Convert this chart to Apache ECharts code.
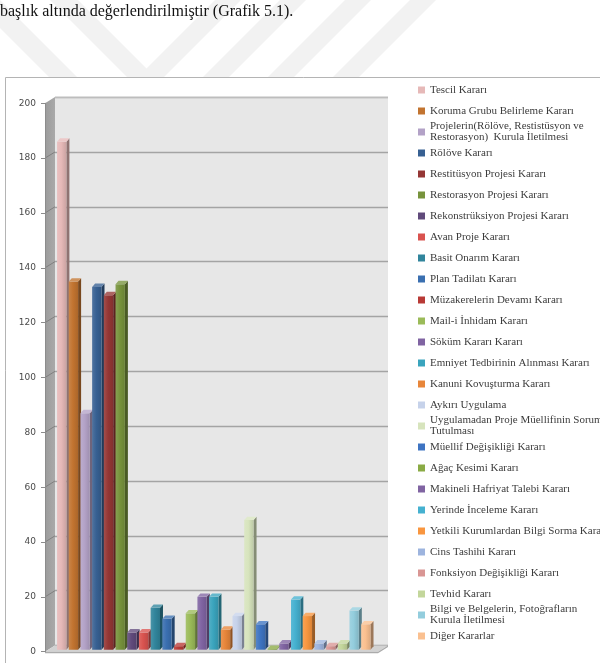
<!DOCTYPE html>
<html><head><meta charset="utf-8">
<script src="https://cdn.jsdelivr.net/npm/echarts@6/dist/echarts.min.js"></script>
<style>html,body{margin:0;padding:0;background:#fff}#c{width:600px;height:663px}</style>
</head><body><div id="c"></div>
<script>
// ---------- data ----------
const categories = [
  'Tescil Kararı',
  'Koruma Grubu Belirleme Kararı',
  'Projelerin(Rölöve, Restistüsyon ve\nRestorasyon)  Kurula İletilmesi',
  'Rölöve Kararı',
  'Restitüsyon Projesi Kararı',
  'Restorasyon Projesi Kararı',
  'Rekonstrüksiyon Projesi Kararı',
  'Avan Proje Kararı',
  'Basit Onarım Kararı',
  'Plan Tadilatı Kararı',
  'Müzakerelerin Devamı Kararı',
  'Mail-i İnhidam Kararı',
  'Söküm Kararı Kararı',
  'Emniyet Tedbirinin Alınması Kararı',
  'Kanuni Kovuşturma Kararı',
  'Aykırı Uygulama',
  'Uygulamadan Proje Müellifinin Sorum\nTutulması',
  'Müellif Değişikliği Kararı',
  'Ağaç Kesimi Kararı',
  'Makineli Hafriyat Talebi Kararı',
  'Yerinde İnceleme Kararı',
  'Yetkili Kurumlardan Bilgi Sorma Kararı',
  'Cins Tashihi Kararı',
  'Fonksiyon Değişikliği Kararı',
  'Tevhid Kararı',
  'Bilgi ve Belgelerin, Fotoğrafların\nKurula İletilmesi',
  'Diğer Kararlar'
];
const values = [186, 135, 87, 133, 130, 134, 7, 7, 16, 12, 2, 14, 20, 20, 8, 13, 48, 10, 1, 3, 19, 13, 3, 2, 3, 15, 10];
const colors = [
  '#e6b9b8', '#c27430', '#b3a2c7', '#376092', '#953735', '#77933c', '#604a7b', '#d9534f',
  '#31859c', '#3a6fb0', '#b83a36', '#9bbb59', '#8064a2', '#3aa4bd', '#e8863a', '#c6d2ea',
  '#d7e4bd', '#3e74c2', '#8aab45', '#8064a2', '#45b1d0', '#f9963f', '#9db4de', '#d99694',
  '#c3d69b', '#93cddd', '#fac090'
];
const yMin = 0, yMax = 200, yInterval = 20;
const titleText = 'başlık altında değerlendirilmiştir (Grafik 5.1).';

// ---------- layout ----------
const FRONT = { left: 45, top: 103.3, width: 333, height: 548.4 };
const DEPTH = { dx: 10, dy: 6.2 };
const BAR = { frac: 0.8, dx: 3, dy: 3.4, lift: 2 };
const X_OFFSET = 1.03;            // empty space before the first bar (in bar slots)
const X_RANGE = { min: 0, max: 28.47 };
const LEGEND = { left: 418, firstCenter: 90, step: 21 };

function mix(hex, t) { // t>0 lighten, t<0 darken
  const n = parseInt(hex.slice(1), 16);
  let r = n >> 16, g = (n >> 8) & 255, b = n & 255;
  const tgt = t > 0 ? 255 : 0, k = Math.abs(t);
  r = Math.round(r + (tgt - r) * k); g = Math.round(g + (tgt - g) * k); b = Math.round(b + (tgt - b) * k);
  return 'rgb(' + r + ',' + g + ',' + b + ')';
}

function renderBar(params, api) {
  const i = api.value(0) + X_OFFSET, v = api.value(1);
  const a = api.coord([i, v]);
  const b = api.coord([i + 1, 0]);
  const w = (b[0] - a[0]) * BAR.frac;
  const x0 = a[0], x1 = a[0] + w, yt = a[1], yb = b[1] - BAR.lift;
  const col = colors[params.seriesIndex];
  const dx = BAR.dx, dy = BAR.dy;
  return {
    type: 'group',
    children: [
      { type: 'polygon', shape: { points: [[x1, yt], [x1 + dx, yt - dy], [x1 + dx, yb - dy], [x1, yb]] },
        style: { fill: mix(col, -0.38) } },
      { type: 'rect', shape: { x: x0, y: yt, width: w, height: Math.max(0, yb - yt) },
        style: { fill: new echarts.graphic.LinearGradient(0, 0, 1, 0, [
          { offset: 0, color: mix(col, 0.12) }, { offset: 0.45, color: col }, { offset: 1, color: mix(col, -0.12) }]) } },
      { type: 'polygon', shape: { points: [[x0, yt], [x1, yt], [x1 + dx, yt - dy], [x0 + dx, yt - dy]] },
        style: { fill: mix(col, 0.22) } }
    ]
  };
}

const series = categories.map((name, i) => ({
  type: 'custom',
  name: name,
  xAxisIndex: 0, yAxisIndex: 0,
  itemStyle: { color: colors[i] },
  clip: false,
  renderItem: renderBar,
  data: [[i, values[i]]],
  z: 3
}));

const legends = categories.map((name, i) => {
  const multi = name.indexOf('\n') >= 0;
  const c = LEGEND.firstCenter + LEGEND.step * i;
  return {
    left: LEGEND.left,
    top: multi ? c - 16.5 : c - 5.5,
    padding: 0,
    data: [name],
    icon: 'rect',
    itemWidth: 7, itemHeight: 7,
    textStyle: {
      fontFamily: 'Liberation Serif', fontSize: 11, color: '#3c3c3c', lineHeight: 11,
      padding: multi ? [11, 0, 0, 0] : 0
    }
  };
});

// decorations (walls, floor, frame, watermark)
const yPix = v => FRONT.top + FRONT.height * (1 - (v - yMin) / (yMax - yMin));
const graphics = [];
graphics.push({ type: 'rect', z: -10, shape: { x: 5.5, y: 77.5, width: 640, height: 640 },
  style: { fill: '#fff', stroke: '#b4b4b4', lineWidth: 1 } });
const bs = [-28, 50], fs = [215, 280, 345, 410];
bs.forEach(a => graphics.push({ type: 'polygon', z: -11,
  shape: { points: [[a, 0], [a + 28, 0], [a + 105, 77], [a + 77, 77]] }, style: { fill: '#f2f2f2' } }));
fs.forEach(b => graphics.push({ type: 'polygon', z: -11,
  shape: { points: [[b, 0], [b + 26, 0], [b - 51, 77], [b - 77, 77]] }, style: { fill: '#f2f2f2' } }));
const fL = FRONT.left, fR = FRONT.left + FRONT.width, fT = FRONT.top, fB = FRONT.top + FRONT.height;
graphics.push({ type: 'polygon', z: 1,
  shape: { points: [[fL, fT], [fL + DEPTH.dx, fT - DEPTH.dy], [fL + DEPTH.dx, fB - DEPTH.dy], [fL, fB]] },
  style: { fill: new echarts.graphic.LinearGradient(0, 0, 1, 0, [{ offset: 0, color: '#9b9b9b' }, { offset: 1, color: '#a9a9a9' }]) } });
for (let t = yMin + yInterval; t < yMax; t += yInterval) {
  const y = yPix(t);
  graphics.push({ type: 'line', z: 1, shape: { x1: fL, y1: y, x2: fL + DEPTH.dx, y2: y - DEPTH.dy },
    style: { stroke: '#7f7f7f', lineWidth: 1 } });
}
graphics.push({ type: 'line', z: 1, shape: { x1: fL + DEPTH.dx, y1: fT - DEPTH.dy, x2: fR + DEPTH.dx, y2: fT - DEPTH.dy },
  style: { stroke: '#cfcfcf', lineWidth: 1 } });
graphics.push({ type: 'polygon', z: 1,
  shape: { points: [[fL, fB], [fL + DEPTH.dx, fB - DEPTH.dy], [fR + DEPTH.dx, fB - DEPTH.dy], [fR, fB]] },
  style: { fill: '#d2d2d2' } });
graphics.push({ type: 'polygon', z: 1,
  shape: { points: [[fL, fB], [fR, fB], [fR + DEPTH.dx, fB - DEPTH.dy], [fR + DEPTH.dx, fB - DEPTH.dy + 1.5], [fR, fB + 1.5], [fL, fB + 1.5]] },
  style: { fill: '#ababab' } });

const chart = echarts.init(document.getElementById('c'), null, { renderer: 'canvas' });
chart.setOption({
  animation: false,
  backgroundColor: '#fff',
  title: { text: titleText, left: 0, top: 4, padding: 0,
    textStyle: { fontFamily: 'Liberation Serif', fontSize: 16, fontWeight: 'normal', color: '#111' } },
  legend: legends,
  graphic: { elements: graphics },
  grid: [
    { left: FRONT.left, top: FRONT.top, width: FRONT.width, height: FRONT.height, containLabel: false },
    { left: FRONT.left + DEPTH.dx, top: FRONT.top - DEPTH.dy, width: FRONT.width, height: FRONT.height,
      show: true, backgroundColor: '#e7e7e7', borderWidth: 0 }
  ],
  xAxis: [
    { type: 'value', gridIndex: 0, min: X_RANGE.min, max: X_RANGE.max, show: false },
    { type: 'value', gridIndex: 1, min: X_RANGE.min, max: X_RANGE.max, show: false }
  ],
  yAxis: [
    { type: 'value', gridIndex: 0, min: yMin, max: yMax, interval: yInterval,
      axisLine: { show: true, onZero: false, lineStyle: { color: '#8c8c8c', width: 1 } },
      axisTick: { show: true, length: 4, inside: false, lineStyle: { color: '#8c8c8c' } },
      axisLabel: { margin: 9, fontFamily: 'DejaVu Sans', fontSize: 9, color: '#4a4a4a' },
      splitLine: { show: false }, z: 4 },
    { type: 'value', gridIndex: 1, min: yMin, max: yMax, interval: yInterval,
      axisLine: { show: false, onZero: false }, axisTick: { show: false }, axisLabel: { show: false },
      splitLine: { show: true, lineStyle: { color: '#a4a4a4', width: 1.3 } } }
  ],
  series: series
});
</script></body></html>
